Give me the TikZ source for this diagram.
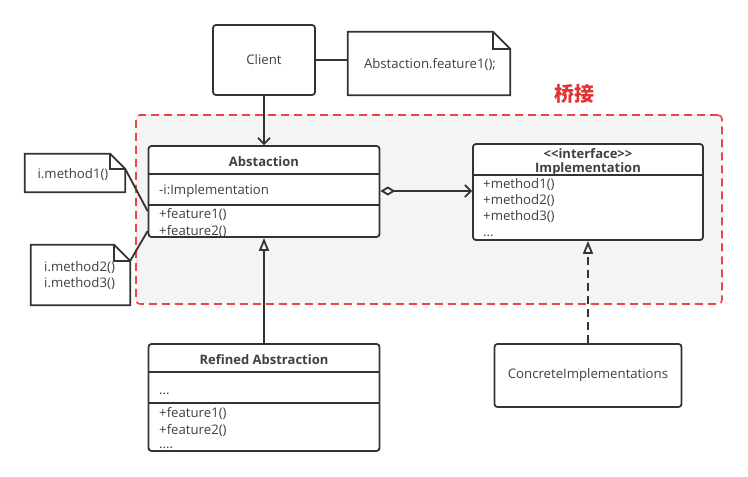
\documentclass[tikz,border=0pt]{standalone}
\usepackage{fontspec}
\setmainfont{Open Sans}
\newfontfamily\cjk{Noto Sans CJK SC}
\usetikzlibrary{arrows.meta,calc}
\definecolor{ln}{HTML}{333333}
\definecolor{tx}{HTML}{404040}
\definecolor{rd}{HTML}{F04444}
\definecolor{rdt}{HTML}{E03434}
\definecolor{bg}{HTML}{F4F4F4}
\newcommand\notefold[2]{%
  \draw[ln, line width=1.8pt, fill=white] (#1.north west) -- ($(#1.north east)+(-#2,0)$) -- ($(#1.north east)+(0,#2)$) -- (#1.south east) -- (#1.south west) -- cycle;
  \draw[ln, line width=1.8pt] ($(#1.north east)+(-#2,0)$) -- ($(#1.north east)+(-#2,#2)$) -- ($(#1.north east)+(0,#2)$);
}
\begin{document}
\begin{tikzpicture}[x=1pt,y=-1pt, font=\fontsize{13.2}{15}\selectfont, text=tx,
 box/.style={draw=ln, line width=1.8pt, rounded corners=3pt, fill=white, inner sep=0pt},
 lbl/.style={inner sep=0pt, anchor=west},
 dots/.style={inner sep=0pt, anchor=base west, text height=2pt, text depth=0pt},
 ttl/.style={inner sep=0pt, font=\fontsize{13}{15}\selectfont\bfseries},
 div/.style={draw=ln, line width=1.8pt},
 conn/.style={draw=ln, line width=1.8pt},
 notearea/.style={inner sep=0pt, draw=none},
 open arrow/.style={-{Straight Barb[length=6pt,width=12pt]}},
 inherit/.style={-{Triangle[open,length=13pt,width=10pt]}}
]
\useasboundingbox (0,0) rectangle (748,477);

% bridge region
\node[draw=rd, fill=bg, line width=1.6pt, dash pattern=on 8pt off 5pt, rounded corners=4pt,
      minimum width=586pt, minimum height=189pt, inner sep=0pt] (region) at (429,209.5) {};
\node[text=rdt, font=\cjk\bfseries\fontsize{20}{22}\selectfont, inner sep=0pt] (bridge) at (574,94) {桥接};

% Client and its note
\node[box, minimum width=102pt, minimum height=70pt] (client) at (264,60) {Client};
\node[notearea, minimum width=162pt, minimum height=63pt] (n0) at (429,63.5) {};
\notefold{n0}{17}
\node[inner sep=0pt] (n0t) at (430,64) {Abstaction.feature1();};
\draw[conn] (client.east) -- (client.east -| n0.west);

% Abstaction
\node[box, minimum width=231pt, minimum height=91pt] (abs) at (264,191.5) {};
\draw[div] ($(abs.north west)+(0,29)$) -- ($(abs.north east)+(0,29)$);
\draw[div] ($(abs.north west)+(0,60)$) -- ($(abs.north east)+(0,60)$);
\node[ttl] (absT) at (264,162) {Abstaction};
\node[lbl] (absA) at (159,191) {-i:Implementation};
\node[lbl] (absM1) at (159,214) {+feature1()};
\node[lbl] (absM2) at (159,231) {+feature2()};

% Implementation
\node[box, minimum width=230pt, minimum height=96pt] (impl) at (588,192) {};
\draw[div] ($(impl.north west)+(0,32)$) -- ($(impl.north east)+(0,32)$);
\node[ttl] (implS) at (588,154) {<{}<interface>{}>};
\node[ttl] (implT) at (588,169) {Implementation};
\node[lbl] (implM1) at (483,185) {+method1()};
\node[lbl] (implM2) at (483,201) {+method2()};
\node[lbl] (implM3) at (483,217) {+method3()};
\node[dots] (implM4) at (483,236) {...};

% Refined Abstraction
\node[box, minimum width=231pt, minimum height=107pt] (ref) at (264,397.5) {};
\draw[div] ($(ref.north west)+(0,29)$) -- ($(ref.north east)+(0,29)$);
\draw[div] ($(ref.north west)+(0,60)$) -- ($(ref.north east)+(0,60)$);
\node[ttl] (refT) at (264,360) {Refined Abstraction};
\node[dots] (refA) at (159,394) {...};
\node[lbl] (refM1) at (159,413) {+feature1()};
\node[lbl] (refM2) at (159,430) {+feature2()};
\node[dots] (refM3) at (159,448) {....};

% Concrete implementations
\node[box, minimum width=187pt, minimum height=63pt] (ci) at (588,375.5) {ConcreteImplementations};

% left notes
\node[notearea, minimum width=100pt, minimum height=38pt] (n1) at (75,173) {};
\notefold{n1}{15}
\node[inner sep=0pt] (n1t) at (73,175) {i.method1()};
\node[notearea, minimum width=99pt, minimum height=60pt] (n2) at (80.5,275) {};
\notefold{n2}{16}
\node[inner sep=0pt, align=left, anchor=west, font=\fontsize{13.2}{16}\selectfont] (n2t) at (44,276) {i.method2()\\i.method3()};

\coordinate (n1c) at ($(n1.north east)+(0,15)$);
\coordinate (n2c) at ($(n2.north east)+(0,16)$);
\coordinate (abs1) at ($(abs.north west)+(0,66)$);
\coordinate (abs2) at ($(abs.north west)+(0,86)$);
\draw[conn] (n1c) -- (abs1);
\draw[conn] (n2c) -- (abs2);

% connectors
\draw[conn, open arrow] (client.south) -- (abs.north);
\draw[conn, {Diamond[open,length=15pt,width=9pt]}-{Straight Barb[length=6pt,width=12pt]}] (abs.east |- absA) -- (impl.west |- absA);
\draw[conn, inherit] (ref.north) -- (abs.south);
\draw[conn, dash pattern=on 8pt off 5pt, inherit] (ci.north) -- (impl.south);
\end{tikzpicture}
\end{document}
